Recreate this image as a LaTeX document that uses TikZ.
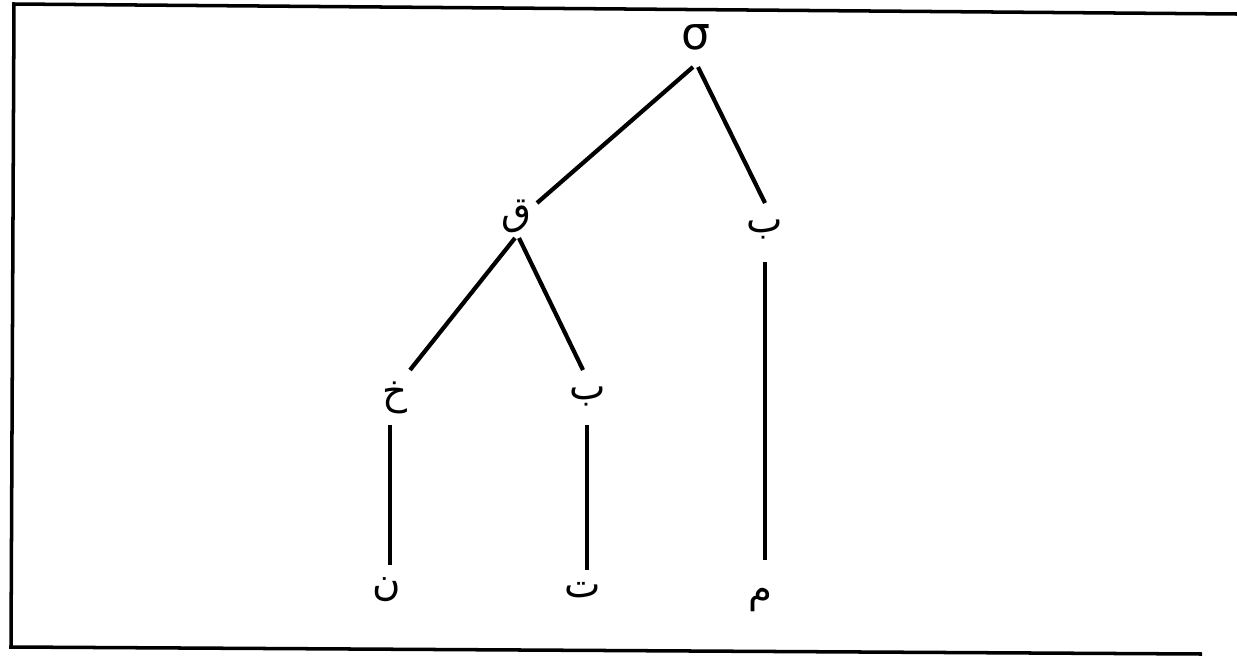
\documentclass[tikz,border=0pt]{standalone}
\usepackage{fontspec}
\usetikzlibrary{calc}
\setmainfont{DejaVu Sans}
\newfontfamily\arabicfont[Script=Arabic]{DejaVu Sans}
\TeXXeTstate=1
\begin{document}
\begin{tikzpicture}[x=0.02cm,y=-0.02cm,
  lbl/.style={font=\arabicfont\fontsize{22}{26}\selectfont, inner sep=0pt},
  br/.style={line width=2.4pt, line cap=butt},
  frame/.style={line width=2pt}]
\useasboundingbox (0,0) rectangle (1237,656);
\coordinate (ftr) at (1237,14);
\coordinate (ftl) at (14,4);
\coordinate (fbl) at (11,647);
\coordinate (fbr) at (1202,654);
\draw[frame] (ftr) -- (ftl) -- (fbl) -- (fbr);
\node[lbl, font=\fontsize{26}{30}\selectfont] (s) at (696,37) {σ};
\node[lbl] (q) at (516,216) {\beginR ق\endR};
\node[lbl] (b1) at (765,229) {\beginR ب\endR};
\node[lbl] (kh) at (395,398) {\beginR خ\endR};
\node[lbl] (b2) at (588,396) {\beginR ب\endR};
\node[lbl] (n) at (387,590) {\beginR ن\endR};
\node[lbl] (t) at (583,590) {\beginR ت\endR};
\node[lbl] (m) at (760,600) {\beginR م\endR};
\draw[br] ($(s)+(-3,30)$) -- ($(q)+(21,-13)$);
\draw[br] ($(s)+(2,30)$) -- ($(b1)+(0,-26)$);
\draw[br] ($(q)+(-1,22)$) -- ($(kh)+(15,-28)$);
\draw[br] ($(q)+(3,22)$) -- ($(b2)+(-5,-26)$);
\draw[br] ($(kh)+(-5,27)$) -- ($(n)+(3,-25)$);
\draw[br] ($(b2)+(-1,29)$) -- ($(t)+(4,-20)$);
\draw[br] ($(b1)+(0,33)$) -- ($(m)+(5,-40)$);
\end{tikzpicture}
\end{document}
